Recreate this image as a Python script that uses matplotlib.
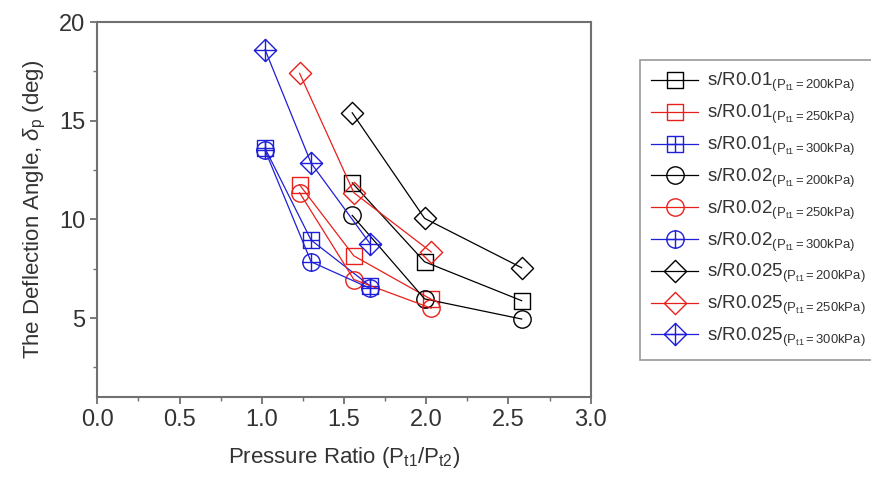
import matplotlib
matplotlib.use('Agg')
import matplotlib.pyplot as plt
from matplotlib.path import Path
from matplotlib.ticker import MultipleLocator

plt.rcParams.update({'font.family': ['Liberation Sans', 'DejaVu Sans'], 'mathtext.fontset': 'custom',
                     'mathtext.rm': 'Liberation Sans', 'mathtext.it': 'Liberation Sans:italic',
                     'axes.linewidth': 1.5})

# pressure ratio (x) and deflection angle (y)
x_200 = [1.55, 1.99, 2.58]
x_250 = [1.23, 1.56, 2.03]
x_300 = [1.02, 1.30, 1.66]

sr001_200 = [11.85, 7.85, 5.88]
sr001_250 = [11.75, 8.15, 5.95]
sr001_300 = [13.6, 8.95, 6.62]
sr002_200 = [10.2, 5.97, 4.95]
sr002_250 = [11.35, 6.95, 5.5]
sr002_300 = [13.5, 7.85, 6.5]
sr0025_200 = [15.4, 10.05, 7.55]
sr0025_250 = [17.4, 11.35, 8.35]
sr0025_300 = [18.6, 12.85, 8.75]

ratios = ['0.01', '0.01', '0.01', '0.02', '0.02', '0.02', '0.025', '0.025', '0.025']
pressures = ['200', '250', '300'] * 3


def with_plus(outline):
    # hollow Origin-style symbol with a cross inside
    plus = Path([(-1, 0), (1, 0), (0, -1), (0, 1)],
                [Path.MOVETO, Path.LINETO, Path.MOVETO, Path.LINETO])
    return Path.make_compound_path(outline, plus)


sq_path = Path([(-1, -1), (1, -1), (1, 1), (-1, 1), (-1, -1)],
               [Path.MOVETO, Path.LINETO, Path.LINETO, Path.LINETO, Path.CLOSEPOLY])
dia_path = Path([(0, -1), (1, 0), (0, 1), (-1, 0), (0, -1)],
                [Path.MOVETO, Path.LINETO, Path.LINETO, Path.LINETO, Path.CLOSEPOLY])
circ_path = Path.unit_circle()

RED = '#e8201c'
BLUE = '#1f1fd8'
series = [
    (x_200, sr001_200, 'black', sq_path, 12),
    (x_250, sr001_250, RED, sq_path, 12),
    (x_300, sr001_300, BLUE, with_plus(sq_path), 12),
    (x_200, sr002_200, 'black', circ_path, 12.5),
    (x_250, sr002_250, RED, circ_path, 12.5),
    (x_300, sr002_300, BLUE, with_plus(circ_path), 12.5),
    (x_200, sr0025_200, 'black', dia_path, 16),
    (x_250, sr0025_250, RED, dia_path, 16),
    (x_300, sr0025_300, BLUE, with_plus(dia_path), 16),
]

fig = plt.figure(figsize=(8.71, 4.84), dpi=100)
ax = fig.add_axes([0.1117, 0.1798, 0.5665, 0.7747])

for (xs, ys, color, marker, ms), r, p in zip(series, ratios, pressures):
    label = 's/R' + r + r'$_{\mathregular{(P_{t1}{=}' + p + r'kPa)}}$'
    ax.plot(xs, ys, color=color, lw=0.9, marker=marker, ms=ms, mfc='none',
            mec=color, mew=1.0, label=label)

ax.set_xlim(0, 3)
ax.set_ylim(1, 20)
ax.xaxis.set_major_locator(MultipleLocator(0.5))
ax.xaxis.set_minor_locator(MultipleLocator(0.25))
ax.set_yticks([5, 10, 15, 20])
ax.yaxis.set_minor_locator(MultipleLocator(2.5))
for s in ax.spines.values():
    s.set_color('#707070')
ax.tick_params(which='both', direction='out', color='#707070', top=False, right=False)
ax.tick_params(which='major', length=5, width=1.3, labelsize=17, labelcolor='#333333')
ax.tick_params(which='minor', length=3, width=1.0)

ax.set_xlabel(r'Pressure Ratio (P$_{\mathregular{t1}}$/P$_{\mathregular{t2}}$)', fontsize=16,
              color='#333333', labelpad=10)
ax.set_ylabel(r'The Deflection Angle, $\delta_{\mathregular{p}}$ (deg)', fontsize=16,
              color='#333333', labelpad=8)

leg = ax.legend(loc='upper left', bbox_to_anchor=(640 / 871, 1 - 60 / 484),
                bbox_transform=fig.transFigure, borderaxespad=0, fontsize=13.5,
                frameon=True, fancybox=False, edgecolor='#999999', framealpha=1,
                handlelength=2.5, handletextpad=0.45, labelspacing=0.46, borderpad=0.6)
leg.get_frame().set_linewidth(1.2)
for t in leg.get_texts():
    t.set_color('#333333')

fig.savefig('out.png', dpi=100)
